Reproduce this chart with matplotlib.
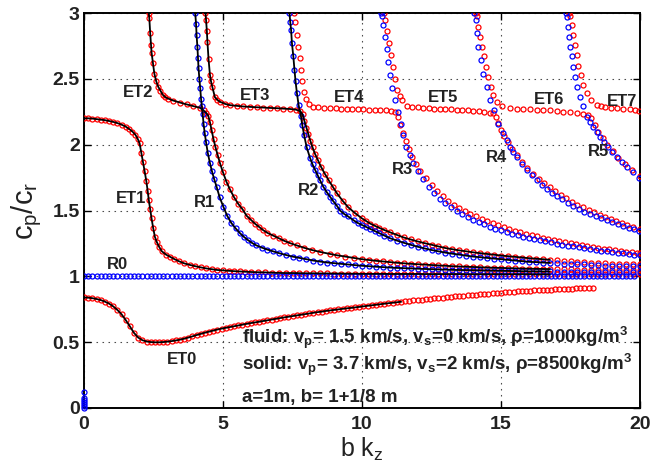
import numpy as np
import matplotlib
matplotlib.use("Agg")
import matplotlib.pyplot as plt

plt.rcParams["font.family"] = ["Liberation Sans", "DejaVu Sans"]
plt.rcParams["mathtext.fontset"] = "custom"
plt.rcParams["mathtext.rm"] = "Liberation Sans"
plt.rcParams["mathtext.bf"] = "Liberation Sans:bold"
plt.rcParams["mathtext.it"] = "Liberation Sans:italic"

# ── data: (b k_z, c_p/c_r) pairs ─────────────────────────────────────────────
# red circles (ET branches)
ET0 = [(0.00, .840), (0.15, .838), (0.30, .834), (0.45, .828), (0.60, .820), (0.75, .808),
       (0.90, .793), (1.05, .772), (1.20, .745), (1.35, .712), (1.50, .668), (1.65, .620),
       (1.80, .570), (1.95, .535), (2.10, .515), (2.25, .505), (2.40, .501), (2.55, .499),
       (2.70, .499), (2.85, .501), (3.00, .504), (3.15, .508), (3.30, .513), (3.45, .519),
       (3.60, .526), (3.75, .535), (3.90, .544), (4.05, .554), (4.20, .563), (4.35, .572),
       (4.50, .580), (4.65, .588), (4.80, .596), (4.95, .603), (5.10, .609), (5.25, .615),
       (5.40, .621), (5.55, .627), (5.70, .633), (5.85, .639), (6.00, .645), (6.15, .650),
       (6.30, .655), (6.45, .661), (6.60, .666), (6.75, .672), (6.90, .677), (7.05, .683),
       (7.20, .688), (7.35, .693), (7.50, .698), (7.65, .703), (7.80, .708), (7.95, .713),
       (8.10, .718), (8.25, .723), (8.40, .728), (8.55, .732), (8.70, .737), (8.85, .741),
       (9.00, .745), (9.15, .749), (9.30, .753), (9.45, .757), (9.60, .760), (9.75, .764),
       (9.90, .768), (10.05, .772), (10.20, .776), (10.35, .780), (10.50, .784), (10.65, .788),
       (10.80, .792), (10.95, .796), (11.10, .799), (11.25, .803), (11.40, .807), (11.55, .810),
       (11.70, .814), (11.85, .817), (12.00, .821), (12.15, .824), (12.30, .827), (12.45, .830),
       (12.60, .833), (12.75, .836), (12.90, .839), (13.05, .842), (13.20, .845), (13.35, .848),
       (13.50, .851), (13.65, .854), (13.80, .857), (13.95, .859), (14.10, .862), (14.25, .864),
       (14.40, .867), (14.55, .869), (14.70, .872), (14.85, .875), (15.00, .877), (15.15, .879),
       (15.30, .881), (15.45, .883), (15.60, .885), (15.75, .887), (15.90, .889), (16.05, .891),
       (16.20, .893), (16.35, .894), (16.50, .896), (16.65, .898), (16.80, .899), (16.95, .901),
       (17.10, .902), (17.25, .904), (17.40, .905), (17.55, .906), (17.70, .908), (17.85, .909),
       (18.00, .911), (18.15, .912), (18.30, .913)]

ET1 = [(0.0, 2.200), (0.15, 2.200), (0.3, 2.198), (0.45, 2.194), (0.6, 2.190), (0.75, 2.186),
       (0.9, 2.180), (1.05, 2.173), (1.2, 2.164), (1.35, 2.152), (1.5, 2.137), (1.62, 2.120),
       (1.74, 2.100), (1.85, 2.075), (1.93, 2.045), (2.0, 2.010), (2.06, 1.940), (2.12, 1.870),
       (2.18, 1.800), (2.24, 1.725), (2.29, 1.650), (2.33, 1.580), (2.38, 1.510), (2.43, 1.440),
       (2.49, 1.365), (2.55, 1.300), (2.62, 1.260), (2.7, 1.225), (2.8, 1.190), (2.95, 1.165),
       (3.1, 1.148), (3.25, 1.131), (3.4, 1.116), (3.6, 1.099), (3.8, 1.087), (4.0, 1.077),
       (4.2, 1.068), (4.4, 1.060), (4.6, 1.054), (4.8, 1.048), (5.0, 1.045), (5.2, 1.042),
       (5.4, 1.039), (5.6, 1.037), (5.8, 1.035), (6.0, 1.033), (6.25, 1.031), (6.5, 1.030),
       (6.75, 1.028), (7.0, 1.026), (7.25, 1.025), (7.5, 1.025), (7.75, 1.024), (8.0, 1.023),
       (8.25, 1.023), (8.5, 1.022), (8.75, 1.022), (9.0, 1.021), (9.25, 1.021), (9.5, 1.020),
       (9.75, 1.020), (10.0, 1.019), (10.25, 1.019), (10.5, 1.019), (10.75, 1.019), (11.0, 1.018),
       (11.25, 1.018), (11.5, 1.018), (11.75, 1.018), (12.0, 1.018), (12.25, 1.017), (12.5, 1.017),
       (12.75, 1.017), (13.0, 1.017), (13.25, 1.017), (13.5, 1.017), (13.75, 1.016), (14.0, 1.016),
       (14.25, 1.016), (14.5, 1.016), (14.75, 1.016), (15.0, 1.016), (15.25, 1.016), (15.5, 1.016),
       (15.75, 1.016), (16.0, 1.016), (16.25, 1.015), (16.5, 1.015), (16.75, 1.015), (17.0, 1.015),
       (17.25, 1.015), (17.5, 1.015), (17.75, 1.015), (18.0, 1.015), (18.25, 1.015), (18.5, 1.015),
       (18.75, 1.015), (19.0, 1.015), (19.25, 1.015), (19.5, 1.015), (19.75, 1.015), (20.0, 1.015)]

ET2 = [(2.33, 3.00), (2.35, 2.96), (2.38, 2.85), (2.41, 2.76), (2.43, 2.70), (2.48, 2.62),
       (2.53, 2.54), (2.60, 2.48), (2.67, 2.44), (2.75, 2.41), (2.83, 2.38), (2.93, 2.36),
       (3.03, 2.35), (3.21, 2.335), (3.45, 2.32), (3.69, 2.306), (3.93, 2.293), (4.17, 2.28),
       (4.30, 2.26), (4.40, 2.24), (4.47, 2.22), (4.53, 2.17), (4.59, 2.11), (4.66, 2.04),
       (4.73, 1.98), (4.81, 1.92), (4.89, 1.86), (5.00, 1.79), (5.12, 1.72), (5.25, 1.66),
       (5.40, 1.60), (5.55, 1.55), (5.70, 1.51), (5.85, 1.46), (6.00, 1.43), (6.15, 1.40),
       (6.30, 1.375), (6.45, 1.35), (6.60, 1.33), (6.80, 1.31), (7.00, 1.29), (7.20, 1.27),
       (7.40, 1.253), (7.65, 1.235), (7.90, 1.218), (8.20, 1.20), (8.50, 1.185), (8.85, 1.17),
       (9.10, 1.16), (9.40, 1.15), (9.70, 1.14), (10.0, 1.13), (10.25, 1.124), (10.5, 1.118),
       (10.75, 1.113), (11.0, 1.108), (11.25, 1.103), (11.5, 1.099), (11.75, 1.095), (12.0, 1.092),
       (12.25, 1.089), (12.5, 1.086), (12.75, 1.083), (13.0, 1.080), (13.25, 1.077), (13.5, 1.075),
       (13.75, 1.073), (14.0, 1.071), (14.25, 1.069), (14.5, 1.067), (14.75, 1.065), (15.0, 1.064),
       (15.25, 1.062), (15.5, 1.061), (15.75, 1.059), (16.0, 1.058), (16.25, 1.057), (16.5, 1.056),
       (16.75, 1.055), (17.0, 1.054), (17.25, 1.053), (17.5, 1.052), (17.75, 1.051), (18.0, 1.050),
       (18.25, 1.049), (18.5, 1.049), (18.75, 1.048), (19.0, 1.047), (19.25, 1.046), (19.5, 1.046),
       (19.75, 1.045), (20.0, 1.045)]

ET3 = [(4.37, 3.00), (4.39, 2.95), (4.42, 2.86), (4.44, 2.78), (4.48, 2.65), (4.53, 2.53),
       (4.57, 2.48), (4.62, 2.435), (4.71, 2.36), (4.80, 2.34), (4.89, 2.326), (5.07, 2.31),
       (5.25, 2.30), (5.49, 2.295), (5.73, 2.29), (5.97, 2.287), (6.21, 2.284), (6.45, 2.282),
       (6.69, 2.279), (6.93, 2.277), (7.17, 2.274), (7.41, 2.271), (7.62, 2.266), (7.78, 2.255),
       (7.86, 2.23), (7.93, 2.18), (8.00, 2.13), (8.07, 2.08), (8.14, 2.03), (8.22, 1.98),
       (8.31, 1.93), (8.42, 1.88), (8.53, 1.83), (8.66, 1.78), (8.80, 1.73), (8.95, 1.68),
       (9.10, 1.63), (9.30, 1.575), (9.50, 1.525), (9.75, 1.48), (10.0, 1.44), (10.15, 1.42),
       (10.3, 1.40), (10.45, 1.385), (10.6, 1.37), (10.8, 1.352), (11.0, 1.335), (11.25, 1.315),
       (11.5, 1.295), (11.75, 1.28), (12.0, 1.265), (12.25, 1.252), (12.5, 1.24), (12.75, 1.227),
       (13.0, 1.215), (13.25, 1.206), (13.5, 1.197), (13.75, 1.19), (14.0, 1.182), (14.25, 1.176),
       (14.5, 1.17), (14.75, 1.164), (15.0, 1.158), (15.25, 1.153), (15.5, 1.148), (15.75, 1.143),
       (16.0, 1.138), (16.25, 1.134), (16.5, 1.13), (16.75, 1.126), (17.0, 1.122), (17.25, 1.118),
       (17.5, 1.115), (17.75, 1.111), (18.0, 1.108), (18.25, 1.105), (18.5, 1.102), (18.75, 1.10),
       (19.0, 1.097), (19.25, 1.095), (19.5, 1.093), (19.75, 1.092), (20.0, 1.09)]

ET4 = [(7.55, 3.00), (7.59, 2.93), (7.65, 2.83), (7.71, 2.74), (7.77, 2.655), (7.81, 2.57),
       (7.85, 2.48), (7.91, 2.40), (7.99, 2.345), (8.10, 2.306), (8.25, 2.288), (8.43, 2.283),
       (8.64, 2.28), (8.85, 2.277), (9.05, 2.275), (9.25, 2.273), (9.45, 2.271), (9.65, 2.27),
       (9.85, 2.269), (10.05, 2.268), (10.25, 2.267), (10.45, 2.265), (10.65, 2.263), (10.85, 2.26),
       (11.05, 2.255), (11.2, 2.245), (11.3, 2.21), (11.38, 2.15), (11.47, 2.09), (11.57, 2.03),
       (11.68, 1.97), (11.8, 1.91), (11.95, 1.85), (12.1, 1.80), (12.3, 1.745), (12.5, 1.695),
       (12.7, 1.65), (12.9, 1.61), (13.1, 1.575), (13.3, 1.545), (13.5, 1.52), (13.7, 1.497),
       (13.9, 1.476), (14.1, 1.455), (14.3, 1.437), (14.5, 1.42), (14.7, 1.404), (14.9, 1.39),
       (15.1, 1.376), (15.3, 1.362), (15.5, 1.348), (15.7, 1.336), (15.9, 1.325), (16.1, 1.313),
       (16.3, 1.303), (16.5, 1.293), (16.7, 1.285), (16.9, 1.277), (17.1, 1.268), (17.3, 1.26),
       (17.5, 1.252), (17.7, 1.245), (17.9, 1.238), (18.1, 1.231), (18.3, 1.224), (18.5, 1.217),
       (18.7, 1.211), (18.9, 1.205), (19.1, 1.199), (19.3, 1.193), (19.5, 1.188), (19.7, 1.183),
       (19.9, 1.178), (20.0, 1.175)]

ET5 = [(10.80, 3.00), (10.83, 2.95), (10.91, 2.86), (10.98, 2.77), (11.04, 2.68), (11.10, 2.59),
       (11.19, 2.50), (11.27, 2.415), (11.35, 2.37), (11.43, 2.34), (11.61, 2.29), (11.80, 2.287),
       (12.00, 2.283), (12.20, 2.28), (12.40, 2.277), (12.60, 2.274), (12.80, 2.272), (13.00, 2.27),
       (13.20, 2.268), (13.40, 2.266), (13.60, 2.264), (13.80, 2.261), (14.00, 2.258), (14.20, 2.255),
       (14.40, 2.25), (14.60, 2.244), (14.72, 2.238), (14.82, 2.21), (14.90, 2.165), (15.00, 2.115),
       (15.12, 2.065), (15.25, 2.02), (15.40, 1.97), (15.56, 1.925), (15.75, 1.87), (15.95, 1.82),
       (16.15, 1.78), (16.35, 1.74), (16.55, 1.707), (16.75, 1.675), (16.95, 1.645), (17.15, 1.618),
       (17.35, 1.592), (17.55, 1.568), (17.75, 1.545), (17.95, 1.524), (18.15, 1.504), (18.35, 1.486),
       (18.55, 1.469), (18.75, 1.453), (18.95, 1.437), (19.15, 1.42), (19.35, 1.405), (19.55, 1.39),
       (19.75, 1.375), (20.0, 1.358)]

ET6 = [(14.09, 3.00), (14.12, 2.98), (14.18, 2.895), (14.24, 2.82), (14.30, 2.74), (14.39, 2.67),
       (14.46, 2.59), (14.54, 2.515), (14.63, 2.44), (14.72, 2.38), (14.84, 2.325), (15.03, 2.293),
       (15.32, 2.276), (15.56, 2.273), (15.80, 2.271), (16.04, 2.269), (16.28, 2.267), (16.52, 2.264),
       (16.76, 2.261), (17.00, 2.256), (17.24, 2.25), (17.48, 2.246), (17.72, 2.242), (17.95, 2.234),
       (18.14, 2.225), (18.25, 2.20), (18.38, 2.15), (18.50, 2.10), (18.66, 2.05), (18.83, 2.00),
       (19.02, 1.95), (19.22, 1.90), (19.45, 1.855), (19.70, 1.81), (20.00, 1.765)]

ET7 = [(17.46, 3.00), (17.48, 2.98), (17.54, 2.91), (17.60, 2.83), (17.66, 2.756), (17.72, 2.68),
       (17.78, 2.60), (17.87, 2.53), (17.96, 2.45), (18.08, 2.39), (18.23, 2.34), (18.44, 2.30),
       (18.60, 2.29), (18.74, 2.283), (18.95, 2.279), (19.16, 2.276), (19.40, 2.272), (19.64, 2.268),
       (19.82, 2.262), (19.98, 2.255)]

# blue circles (R branches)
R0 = [(0.0, 1.0), (0.15, 1.0), (0.3, 1.0), (0.45, 1.0), (0.6, 1.0), (0.75, 1.0), (0.9, 1.0),
      (1.05, 1.0), (1.2, 1.0), (1.35, 1.0), (1.5, 1.0), (1.65, 1.0), (1.8, 1.0), (1.95, 1.0),
      (2.1, 1.0), (2.25, 1.0), (2.4, 1.0), (2.55, 1.0), (2.7, 1.0), (2.85, 1.0), (3.0, 1.0),
      (3.15, 1.0), (3.3, 1.0), (3.45, 1.0), (3.6, 1.0), (3.75, 1.0), (3.9, 1.0), (4.05, 1.0),
      (4.2, 1.0), (4.35, 1.0), (4.5, 1.0), (4.65, 1.0), (4.8, 1.0), (4.95, 1.0), (5.1, 1.0),
      (5.25, 1.0), (5.4, 1.0), (5.55, 1.0), (5.7, 1.0), (5.85, 1.0), (6.0, 1.0), (6.15, 1.0),
      (6.3, 1.0), (6.45, 1.0), (6.6, 1.0), (6.75, 1.0), (6.9, 1.0), (7.05, 1.0), (7.2, 1.0),
      (7.35, 1.0), (7.5, 1.0), (7.65, 1.0), (7.8, 1.0), (7.95, 1.0), (8.1, 1.0), (8.25, 1.0),
      (8.4, 1.0), (8.55, 1.0), (8.7, 1.0), (8.85, 1.0), (9.0, 1.0), (9.15, 1.0), (9.3, 1.0),
      (9.45, 1.0), (9.6, 1.0), (9.75, 1.0), (9.9, 1.0), (10.05, 1.0), (10.2, 1.0), (10.35, 1.0),
      (10.5, 1.0), (10.65, 1.0), (10.8, 1.0), (10.95, 1.0), (11.1, 1.0), (11.25, 1.0), (11.4, 1.0),
      (11.55, 1.0), (11.7, 1.0), (11.85, 1.0), (12.0, 1.0), (12.15, 1.0), (12.3, 1.0), (12.45, 1.0),
      (12.6, 1.0), (12.75, 1.0), (12.9, 1.0), (13.05, 1.0), (13.2, 1.0), (13.35, 1.0), (13.5, 1.0),
      (13.65, 1.0), (13.8, 1.0), (13.95, 1.0), (14.1, 1.0), (14.25, 1.0), (14.4, 1.0), (14.55, 1.0),
      (14.7, 1.0), (14.85, 1.0), (15.0, 1.0), (15.15, 1.0), (15.3, 1.0), (15.45, 1.0), (15.6, 1.0),
      (15.75, 1.0), (15.9, 1.0), (16.05, 1.0), (16.2, 1.0), (16.35, 1.0), (16.5, 1.0), (16.65, 1.0),
      (16.8, 1.0), (16.95, 1.0), (17.1, 1.0), (17.25, 1.0), (17.4, 1.0), (17.55, 1.0), (17.7, 1.0),
      (17.85, 1.0), (18.0, 1.0), (18.15, 1.0), (18.3, 1.0), (18.45, 1.0), (18.6, 1.0), (18.75, 1.0),
      (18.9, 1.0), (19.05, 1.0), (19.2, 1.0), (19.35, 1.0), (19.5, 1.0), (19.65, 1.0), (19.8, 1.0)]
R0_LOW = [(0.0, 0.0), (0.0, 0.015), (0.0, 0.03), (0.0, 0.045), (0.0, 0.06), (0.0, 0.075),
          (0.0, 0.124)]

R1 = [(4.00, 3.00), (4.03, 2.92), (4.05, 2.83), (4.08, 2.74), (4.10, 2.66), (4.12, 2.58),
      (4.15, 2.50), (4.18, 2.43), (4.21, 2.35), (4.24, 2.29), (4.27, 2.23), (4.30, 2.16),
      (4.34, 2.09), (4.39, 2.02), (4.45, 1.94), (4.53, 1.86), (4.60, 1.80), (4.68, 1.74),
      (4.77, 1.68), (4.88, 1.60), (5.01, 1.53), (5.15, 1.46), (5.30, 1.405), (5.45, 1.365),
      (5.60, 1.33), (5.75, 1.30), (5.90, 1.275), (6.05, 1.253), (6.20, 1.235), (6.40, 1.218),
      (6.60, 1.203), (6.80, 1.19), (7.00, 1.177), (7.25, 1.163), (7.50, 1.15), (7.75, 1.14),
      (8.00, 1.13), (8.25, 1.12), (8.50, 1.112), (8.75, 1.105), (9.00, 1.10), (9.25, 1.095),
      (9.50, 1.09), (9.75, 1.085), (10.0, 1.08), (10.25, 1.077), (10.5, 1.073), (10.75, 1.07),
      (11.0, 1.067), (11.25, 1.064), (11.5, 1.062), (11.75, 1.06), (12.0, 1.058), (12.25, 1.056),
      (12.5, 1.054), (12.75, 1.052), (13.0, 1.051), (13.25, 1.049), (13.5, 1.048), (13.75, 1.047),
      (14.0, 1.046), (14.25, 1.045), (14.5, 1.044), (14.75, 1.043), (15.0, 1.042), (15.25, 1.041),
      (15.5, 1.04), (15.75, 1.039), (16.0, 1.038), (16.25, 1.038), (16.5, 1.037), (16.75, 1.037),
      (17.0, 1.036), (17.25, 1.036), (17.5, 1.035), (17.75, 1.035), (18.0, 1.034), (18.25, 1.034),
      (18.5, 1.033), (18.75, 1.033), (19.0, 1.032), (19.25, 1.032), (19.5, 1.031), (19.75, 1.031),
      (20.0, 1.03)]

R2 = [(7.39, 3.00), (7.42, 2.93), (7.45, 2.87), (7.48, 2.77), (7.53, 2.67), (7.57, 2.57),
      (7.61, 2.48), (7.66, 2.39), (7.72, 2.30), (7.80, 2.22), (7.85, 2.15), (7.92, 2.07),
      (8.01, 1.98), (8.13, 1.90), (8.22, 1.85), (8.31, 1.81), (8.40, 1.77), (8.49, 1.73),
      (8.61, 1.68), (8.73, 1.64), (8.85, 1.605), (8.97, 1.57), (9.10, 1.535), (9.21, 1.50),
      (9.35, 1.475), (9.50, 1.455), (9.70, 1.425), (9.85, 1.405), (10.0, 1.39), (10.15, 1.375),
      (10.3, 1.36), (10.45, 1.345), (10.6, 1.33), (10.8, 1.31), (11.0, 1.29), (11.25, 1.272),
      (11.5, 1.255), (11.75, 1.24), (12.0, 1.225), (12.25, 1.212), (12.5, 1.20), (12.75, 1.19),
      (13.0, 1.18), (13.25, 1.172), (13.5, 1.165), (13.75, 1.157), (14.0, 1.15), (14.25, 1.145),
      (14.5, 1.14), (14.75, 1.135), (15.0, 1.13), (15.25, 1.125), (15.5, 1.12), (15.75, 1.115),
      (16.0, 1.11), (16.25, 1.108), (16.5, 1.105), (16.75, 1.102), (17.0, 1.10), (17.25, 1.097),
      (17.5, 1.095), (17.75, 1.092), (18.0, 1.09), (18.25, 1.087), (18.5, 1.085), (18.75, 1.082),
      (19.0, 1.08), (19.25, 1.078), (19.5, 1.077), (19.75, 1.076), (20.0, 1.075)]

R3 = [(10.69, 3.00), (10.71, 2.98), (10.77, 2.91), (10.83, 2.82), (10.89, 2.73), (10.95, 2.63),
      (11.0, 2.53), (11.09, 2.43), (11.19, 2.34), (11.28, 2.25), (11.39, 2.16), (11.49, 2.07),
      (11.6, 1.98), (11.72, 1.92), (11.85, 1.86), (12.0, 1.80), (12.2, 1.74), (12.4, 1.68),
      (12.6, 1.63), (12.8, 1.59), (13.0, 1.555), (13.2, 1.525), (13.4, 1.495), (13.6, 1.47),
      (13.8, 1.448), (14.0, 1.43), (14.2, 1.412), (14.4, 1.395), (14.6, 1.378), (14.8, 1.363),
      (15.0, 1.35), (15.2, 1.338), (15.4, 1.325), (15.6, 1.313), (15.8, 1.302), (16.0, 1.29),
      (16.2, 1.281), (16.4, 1.273), (16.6, 1.265), (16.8, 1.257), (17.0, 1.249), (17.2, 1.24),
      (17.4, 1.233), (17.6, 1.227), (17.8, 1.22), (18.0, 1.213), (18.2, 1.207), (18.4, 1.20),
      (18.6, 1.195), (18.8, 1.19), (19.0, 1.185), (19.2, 1.18), (19.4, 1.174), (19.6, 1.168),
      (19.8, 1.164), (20.0, 1.16)]

R4 = [(14.03, 3.00), (14.09, 2.946), (14.12, 2.845), (14.18, 2.74), (14.27, 2.64), (14.36, 2.54),
      (14.48, 2.44), (14.60, 2.34), (14.75, 2.26), (14.90, 2.16), (15.08, 2.086), (15.20, 2.035),
      (15.32, 1.984), (15.44, 1.945), (15.56, 1.908), (15.74, 1.855), (15.92, 1.807), (16.10, 1.768),
      (16.28, 1.73), (16.46, 1.696), (16.64, 1.665), (16.82, 1.636), (17.0, 1.61), (17.2, 1.584),
      (17.4, 1.56), (17.6, 1.535), (17.8, 1.51), (18.0, 1.49), (18.2, 1.472), (18.4, 1.456),
      (18.6, 1.44), (18.8, 1.425), (19.0, 1.41), (19.2, 1.395), (19.4, 1.381), (19.6, 1.368),
      (19.8, 1.356), (19.98, 1.344)]

R5 = [(17.34, 3.00), (17.36, 2.97), (17.40, 2.895), (17.45, 2.82), (17.48, 2.74), (17.54, 2.67),
      (17.60, 2.59), (17.67, 2.515), (17.75, 2.44), (17.84, 2.364), (17.96, 2.29), (18.10, 2.21),
      (18.20, 2.17), (18.32, 2.136), (18.44, 2.097), (18.56, 2.06), (18.70, 2.02), (18.86, 1.984),
      (19.00, 1.945), (19.16, 1.908), (19.34, 1.87), (19.52, 1.832), (19.75, 1.79), (19.98, 1.744)]

# black reference lines stop here
BLACK_ET0_END = 11.5
BLACK_END = 16.8

# curve labels: (text, x, y)
CURVE_LABELS = [("ET0", 3.51, 0.37), ("ET1", 1.68, 1.59), ("ET2", 1.93, 2.40),
                ("ET3", 6.15, 2.37), ("ET4", 9.54, 2.36), ("ET5", 12.9, 2.36),
                ("ET6", 16.73, 2.34), ("ET7", 19.34, 2.33), ("R0", 1.2, 1.09),
                ("R1", 4.32, 1.56), ("R2", 8.06, 1.65), ("R3", 11.47, 1.81),
                ("R4", 14.85, 1.90), ("R5", 18.49, 1.95)]

X_TICKS = [0, 5, 10, 15, 20]
Y_TICKS = [0, 0.5, 1, 1.5, 2, 2.5, 3]
Y_TICK_LABELS = ["0", "0.5", "1", "1.5", "2", "2.5", "3"]

INFO_LINES = [
    r"fluid: v$_\mathbf{p}$= 1.5 km/s, v$_\mathbf{s}$=0 km/s, ρ=1000kg/m$^\mathbf{3}$",
    r"solid: v$_\mathbf{p}$= 3.7 km/s, v$_\mathbf{s}$=2 km/s, ρ=8500kg/m$^\mathbf{3}$",
    "a=1m, b= 1+1/8 m",
]
INFO_Y = [0.494, 0.289, 0.046]

RED_SETS = [ET0, ET1, ET2, ET3, ET4, ET5, ET6, ET7]
BLUE_SETS = [R0, R1, R2, R3, R4, R5]
BLACK_SETS = [(ET0, BLACK_ET0_END), (ET1, BLACK_END), (ET2, BLACK_END),
              (ET3, BLACK_END), (R1, BLACK_END), (R2, BLACK_END)]

# ── figure ───────────────────────────────────────────────────────────────────
fig = plt.figure(figsize=(6.72, 4.68), dpi=100)
ax = fig.add_axes([84 / 672, 60 / 468, 556 / 672, 395 / 468])

mk = dict(ls="none", marker="o", mfc="none", ms=3.6, mew=0.9)

for pts in RED_SETS:
    x, y = zip(*pts)
    ax.plot(x, y, mec="#ff0000", **mk, zorder=3)

for pts in BLUE_SETS:
    x, y = zip(*pts)
    ax.plot(x, y, mec="#0000ff", **mk, zorder=4)
x, y = zip(*R0_LOW)
ax.plot(x, y, mec="#0000ff", **mk, zorder=4, clip_on=False)

for pts, end in BLACK_SETS:
    arr = np.array(pts)
    keep = arr[:, 0] <= end
    ax.plot(arr[keep, 0], arr[keep, 1], color="black", lw=1.3, zorder=5)

for txt, x, y in CURVE_LABELS:
    ax.text(x, y, txt, ha="center", va="center", fontsize=12,
            fontweight="bold", color="#222222", zorder=6)

for line, y in zip(INFO_LINES, INFO_Y):
    ax.text(5.68, y, line, ha="left", va="baseline", fontsize=13.5,
            fontweight="bold", color="#222222", zorder=6)

ax.set_xlim(0, 20)
ax.set_ylim(0, 3)
ax.set_xticks(X_TICKS)
ax.set_xticklabels([str(t) for t in X_TICKS])
ax.set_yticks(Y_TICKS)
ax.set_yticklabels(Y_TICK_LABELS)
ax.tick_params(direction="in", top=True, right=True, length=5, width=1.0,
               labelsize=14, colors="black")
ax.tick_params(axis="x", pad=6)
ax.tick_params(axis="y", pad=3)
for lbl in ax.get_xticklabels() + ax.get_yticklabels():
    lbl.set_fontweight("bold")
    lbl.set_color("#222222")

for sp in ax.spines.values():
    sp.set_linewidth(1.4)

ax.grid(True, linestyle=(0, (1.4, 4.0)), color="0.3", linewidth=0.8, zorder=1)
ax.set_axisbelow(True)

ax.set_xlabel(r"b k$_\mathrm{z}$", fontsize=18, color="#222222")
ax.set_ylabel(r"c$_\mathrm{p}$/c$_\mathrm{r}$", fontsize=21, color="#222222")
ax.xaxis.set_label_coords(0.5, -0.07)
ax.yaxis.set_label_coords(-0.072, 0.5)

fig.savefig("out.png", dpi=100)
